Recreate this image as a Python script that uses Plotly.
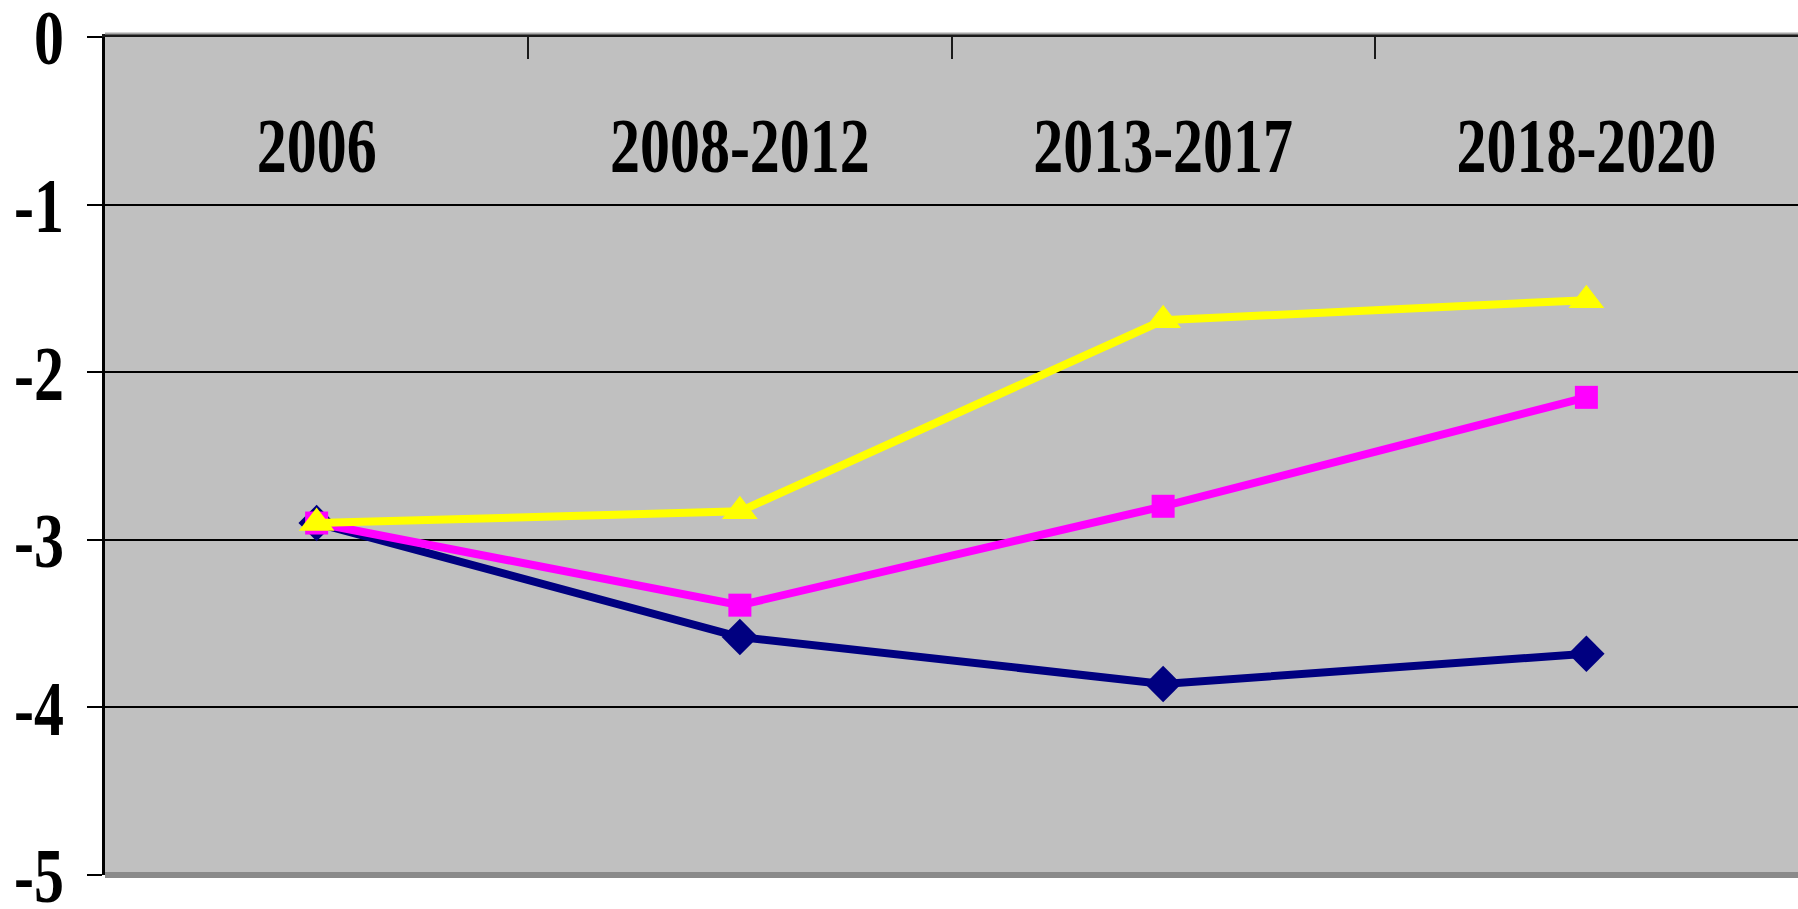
import plotly.graph_objects as go

# Periods on the category axis
periods = ["2006", "2008-2012", "2013-2017", "2018-2020"]

# Three scenario series
series_navy = [-2.90, -3.58, -3.86, -3.68]
series_magenta = [-2.90, -3.39, -2.80, -2.15]
series_yellow = [-2.90, -2.83, -1.69, -1.57]

# Value axis ticks
y_ticks = [0, -1, -2, -3, -4, -5]
y_tick_text = ["0", "-1", "-2", "-3", "-4", "-5"]

serif = "Liberation Serif, Times New Roman, serif"

fig = go.Figure()

fig.add_trace(go.Scatter(
    x=periods, y=series_navy, mode="lines+markers",
    line=dict(color="#000080", width=8),
    marker=dict(symbol="diamond", size=28, color="#000080"),
    showlegend=False,
))
fig.add_trace(go.Scatter(
    x=periods, y=series_magenta, mode="lines+markers",
    line=dict(color="#FF00FF", width=8),
    marker=dict(symbol="square", size=23, color="#FF00FF"),
    showlegend=False,
))
fig.add_trace(go.Scatter(
    x=periods, y=series_yellow, mode="lines+markers",
    line=dict(color="#FFFF00", width=8),
    marker=dict(symbol="triangle-up", size=31, color="#FFFF00"),
    showlegend=False,
))

fig.update_layout(
    width=1798, height=909,
    margin=dict(l=105, r=0, t=37, b=29),
    paper_bgcolor="white",
    plot_bgcolor="#C0C0C0",
    font=dict(family=serif, color="black"),
    xaxis=dict(
        type="category",
        side="top",
        range=[-0.5, 3.5],
        showgrid=False,
        zeroline=False,
        showline=True, linecolor="#1a1a1a", linewidth=3,
        ticks="inside", tickson="boundaries", ticklen=22,
        tickwidth=2, tickcolor="#1a1a1a",
        # labels pulled down from the top edge into the plot area
        ticklabelstandoff=-156,
        ticklabeloverflow="allow",
        tickfont=dict(family=serif, size=60, color="black", weight="bold"),
    ),
    yaxis=dict(
        range=[-5, 0],
        tickvals=y_ticks, ticktext=y_tick_text,
        showgrid=True, gridcolor="black", gridwidth=2,
        zeroline=False,
        showline=True, linecolor="black", linewidth=3,
        ticks="outside", ticklen=15, tickwidth=2, tickcolor="black",
        ticklabelstandoff=11,
        ticklabeloverflow="allow",
        tickfont=dict(family=serif, size=60, color="black", weight="bold"),
    ),
    shapes=[
        # darker grey floor edge of the plot area
        dict(type="line", xref="paper", yref="paper",
             x0=0, x1=1, y0=0, y1=0,
             line=dict(color="#8a8a8a", width=6), layer="above"),
        # soft shade above the top frame line
        dict(type="line", xref="paper", yref="paper",
             x0=0, x1=1, y0=1.0042, y1=1.0042,
             line=dict(color="#a8a8a8", width=2), layer="above"),
    ],
)

# Tall, condensed look of the bold serif labels: stretch each tick label
# vertically about its own centre.
stretch_js = """
var gd = document.getElementById('{plot_id}');
var nodes = gd.querySelectorAll('g.xtick text, g.ytick text');
nodes.forEach(function (t) {
    var base = t.getAttribute('transform') || '';
    var bb = t.getBBox();
    var cx = bb.x + bb.width / 2, cy = bb.y + bb.height / 2;
    t.setAttribute('transform', base + ' translate(' + cx + ',' + cy + ') scale(1,1.32) translate(' + (-cx) + ',' + (-cy) + ')');
});
"""

fig.write_html("out.html", post_script=stretch_js)
